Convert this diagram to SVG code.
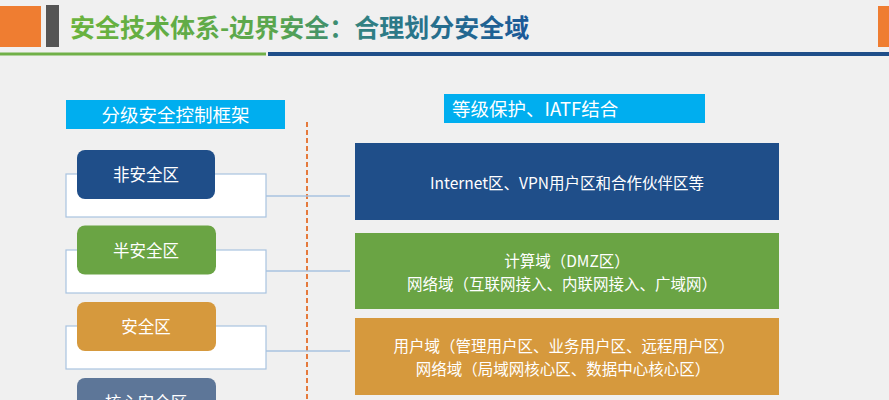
<svg xmlns="http://www.w3.org/2000/svg" width="889" height="400" viewBox="0 0 889 400">
  <defs>
    <linearGradient id="titleGrad" x1="70" y1="0" x2="530" y2="0" gradientUnits="userSpaceOnUse">
      <stop offset="0" stop-color="#6ab33e"/>
      <stop offset="0.45" stop-color="#5aa64e"/>
      <stop offset="0.65" stop-color="#2f7f84"/>
      <stop offset="1" stop-color="#1b5898"/>
    </linearGradient>
  </defs>
  <style>
    text { font-family: "Noto Sans CJK SC", "Noto Sans", sans-serif; }
    .hdr { fill: #00aeef; }
    .hdrtxt { fill: #ffffff; font-size: 18.5px; }
    .outer { fill: #ffffff; stroke: #a9c3e0; stroke-width: 1.2; }
    .pill-txt { fill: #ffffff; font-size: 16.5px; text-anchor: middle; dominant-baseline: central; }
    .box-txt { fill: #ffffff; font-size: 15.5px; text-anchor: middle; dominant-baseline: central; }
    .conn { stroke: #a9c3e0; stroke-width: 1.5; fill: none; }
    .blue { fill: #1f4e89; }
    .green { fill: #6aa444; }
    .orange { fill: #d6993d; }
    .slate { fill: #5d7698; }
  </style>
  <rect x="0" y="0" width="889" height="400" fill="#f0f0f0"/>

  <g id="titlebar">
    <rect x="0" y="6" width="41" height="41" fill="#ef7d31"/>
    <rect x="46" y="5" width="13" height="42" fill="#555555"/>
    <rect x="878" y="6" width="11" height="41" fill="#ef7d31"/>
    <text x="70" y="37" font-size="25" font-weight="bold" fill="url(#titleGrad)">安全技术体系-边界安全：合理划分安全域</text>
    <rect x="0" y="52.5" width="266" height="3" fill="#70b048"/>
    <rect x="268" y="52" width="621" height="4" fill="#1f4e89"/>
  </g>

  <g id="left-header">
    <rect class="hdr" x="66" y="100" width="219" height="29"/>
    <text class="hdrtxt" x="175.5" y="121.5" text-anchor="middle">分级安全控制框架</text>
  </g>

  <g id="right-header">
    <rect class="hdr" x="444" y="94" width="261" height="29"/>
    <text class="hdrtxt" x="452" y="116">等级保护、IATF结合</text>
  </g>

  <g id="divider">
    <line x1="307" y1="122" x2="307" y2="400" stroke="#e57a3c" stroke-width="2" stroke-dasharray="5 3"/>
  </g>

  <g id="connectors">
    <line class="conn" x1="266" y1="196" x2="350" y2="196"/>
    <line class="conn" x1="266" y1="271" x2="350" y2="271"/>
    <line class="conn" x1="266" y1="351" x2="350" y2="351"/>
  </g>

  <g id="zone-nonsecure">
    <rect class="outer" x="66" y="174" width="200" height="43"/>
    <rect class="blue" x="77" y="150" width="138" height="49" rx="8"/>
    <text class="pill-txt" x="146" y="174">非安全区</text>
  </g>

  <g id="zone-semisecure">
    <rect class="outer" x="66" y="250" width="200" height="43"/>
    <rect class="green" x="77" y="225.5" width="139" height="49" rx="8"/>
    <text class="pill-txt" x="146" y="249.5">半安全区</text>
  </g>

  <g id="zone-secure">
    <rect class="outer" x="66" y="326" width="200" height="43"/>
    <rect class="orange" x="77" y="302" width="139" height="49" rx="8"/>
    <text class="pill-txt" x="146" y="326">安全区</text>
  </g>

  <g id="zone-core">
    <rect class="slate" x="77" y="378" width="139" height="49" rx="8"/>
    <text class="pill-txt" x="146" y="402">核心安全区</text>
  </g>

  <g id="box-internet">
    <rect class="blue" x="355" y="143" width="424" height="77"/>
    <text class="box-txt" x="567" y="181.5" font-size="16">Internet区、VPN用户区和合作伙伴区等</text>
  </g>

  <g id="box-dmz">
    <rect class="green" x="355" y="233" width="424" height="76"/>
    <text class="box-txt" x="567" y="259.5">计算域（DMZ区）</text>
    <text class="box-txt" x="562" y="282.5">网络域（互联网接入、内联网接入、广域网）</text>
  </g>

  <g id="box-user">
    <rect class="orange" x="355" y="318" width="424" height="77"/>
    <text class="box-txt" x="564" y="345">用户域（管理用户区、业务用户区、远程用户区）</text>
    <text class="box-txt" x="563" y="368">网络域（局域网核心区、数据中心核心区）</text>
  </g>
</svg>
